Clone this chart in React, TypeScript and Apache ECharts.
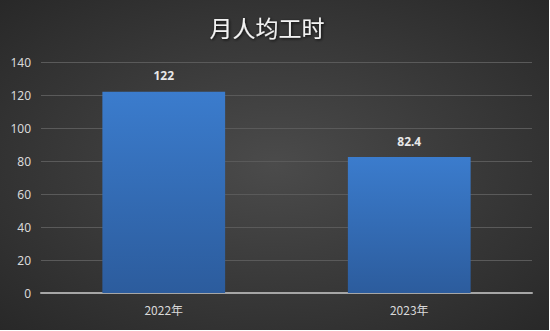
import React, { useEffect, useRef } from "react";
import * as echarts from "echarts";

const categories = ["2022年", "2023年"];
const values = [122, 82.4];
const titleText = "月人均工时";

export default function App() {
  const ref = useRef<HTMLDivElement>(null);
  useEffect(() => {
    document.body.style.margin = "0";
    document.body.style.background = "#ffffff";
    const chart = echarts.init(ref.current!, null, { renderer: "svg" });
    chart.setOption({
      animation: false,
      backgroundColor: {
        type: "radial",
        x: 0.5,
        y: 0.5,
        r: 0.75,
        colorStops: [
          { offset: 0, color: "#4b4b4b" },
          { offset: 1, color: "#262626" },
        ],
      },
      title: {
        text: titleText,
        left: 262,
        textAlign: "center",
        top: 10,
        textStyle: {
          color: "#f2f2f2",
          fontSize: 23,
          fontWeight: "normal",
          fontFamily: "Noto Sans CJK SC",
          textShadowColor: "rgba(0,0,0,0.8)",
          textShadowBlur: 3,
          textShadowOffsetX: 1,
          textShadowOffsetY: 1,
        },
      },
      grid: { left: 41, right: 17, top: 62, bottom: 37 },
      xAxis: {
        type: "category",
        data: categories,
        axisLine: { lineStyle: { color: "#a6a6a6", width: 2 } },
        axisTick: { show: false },
        axisLabel: { color: "#d9d9d9", fontSize: 12, margin: 10, fontFamily: "Noto Sans CJK SC" },
      },
      yAxis: {
        type: "value",
        min: 0,
        max: 140,
        interval: 20,
        axisLine: { show: false },
        axisTick: { show: false },
        axisLabel: { color: "#d9d9d9", fontSize: 12, margin: 10, fontFamily: "Noto Sans" },
        splitLine: { lineStyle: { color: "#5a5a5a", width: 1 } },
      },
      series: [
        {
          type: "bar",
          data: values,
          barWidth: "50%",
          itemStyle: {
            color: {
              type: "linear",
              x: 0,
              y: 0,
              x2: 0,
              y2: 1,
              colorStops: [
                { offset: 0, color: "#3b7ccd" },
                { offset: 1, color: "#2c5c9d" },
              ],
            },
          },
          label: {
            show: true,
            position: "top",
            distance: 10,
            color: "#e8e8e8",
            fontSize: 12,
            fontWeight: "bold",
            fontFamily: "Noto Sans",
          },
        },
      ],
    });
    return () => chart.dispose();
  }, []);
  return (
    <div
      ref={ref}
      style={{ position: "absolute", left: 0, top: 0, width: 549, height: 330 }}
    />
  );
}
